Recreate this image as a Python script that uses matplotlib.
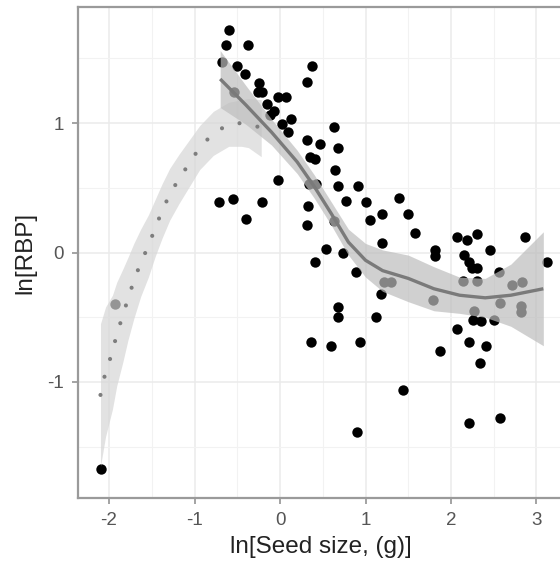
import matplotlib
matplotlib.use("Agg")
import matplotlib.pyplot as plt
import numpy as np

plt.rcParams['font.family'] = ['Liberation Sans', 'DejaVu Sans']
plt.rcParams['lines.scale_dashes'] = False

# ---- observed points: ln(seed size) vs ln(RBP) ----
pt_x = [-0.60, -0.63, -0.37, -0.50, -0.41, -0.25, -0.26, -0.21, -0.15, -0.02,
        0.07, -0.07, -0.12, 0.13, 0.02, 0.09, 0.37, 0.32, 0.63, 0.32,
        0.47, 0.68, 0.35, 0.41, 0.64, -0.02, -0.71, -0.55, -0.21, -0.40,
        0.68, 0.91, 0.77, 1.01, 1.39, 0.33, 1.19, 1.50, 1.05, 0.32,
        1.58, 2.07, 2.19, 2.30, 2.87, 0.54, 1.19, 1.81, 1.81, 2.46,
        2.15, 2.21, 2.25, 2.30, 0.41, 3.12, 2.56, 0.89, 1.18, 0.68,
        0.68, 1.12, 2.07, 2.26, 2.35, 2.50, 0.36, 0.60, 0.94, 1.87,
        2.21, 2.41, 2.34, 1.44, 2.21, 2.57, 0.90, -2.09, -0.27,
        -0.68, -0.54, -1.93, 0.34, 0.42, 0.63, 0.74, 1.22, 1.30, 1.79,
        2.14, 2.30, 2.71, 2.83, 2.57, 2.27, 2.82, 2.82]
pt_y = [1.72, 1.60, 1.60, 1.44, 1.38, 1.31, 1.24, 1.24, 1.15, 1.20,
        1.20, 1.09, 1.06, 1.03, 0.99, 0.93, 1.44, 1.32, 0.97, 0.87,
        0.84, 0.81, 0.74, 0.72, 0.64, 0.56, 0.39, 0.41, 0.39, 0.26,
        0.51, 0.51, 0.40, 0.39, 0.42, 0.36, 0.30, 0.30, 0.25, 0.21,
        0.15, 0.12, 0.10, 0.14, 0.12, 0.03, 0.07, 0.02, -0.03, 0.02,
        -0.02, -0.07, -0.12, -0.12, -0.07, -0.07, -0.15, -0.15, -0.32, -0.42,
        -0.50, -0.50, -0.59, -0.52, -0.53, -0.52, -0.69, -0.72, -0.69, -0.76,
        -0.69, -0.72, -0.85, -1.06, -1.32, -1.28, -1.39, -1.67, -1.95,
        1.47, 1.24, -0.40, 0.53, 0.53, 0.24, 0.00, -0.23, -0.23, -0.37,
        -0.22, -0.22, -0.25, -0.23, -0.39, -0.45, -0.41, -0.46]

# ---- smooth fit (solid) with confidence band ----
fit_x = [-0.70, -0.40, -0.10, 0.20, 0.40, 0.60, 0.80, 1.00, 1.20, 1.50,
         1.80, 2.10, 2.40, 2.70, 3.08]
fit_y = [1.34, 1.14, 0.93, 0.70, 0.51, 0.30, 0.08, -0.06, -0.14, -0.20,
         -0.28, -0.33, -0.35, -0.33, -0.28]
fit_se = [0.22, 0.15, 0.10, 0.09, 0.09, 0.09, 0.10, 0.13, 0.16, 0.18,
          0.17, 0.14, 0.15, 0.24, 0.44]

# ---- quadratic fit (dotted) with confidence band ----
quad_x = [-2.10, -2.04, -1.96, -1.91, -1.84, -1.78, -1.71, -1.63, -1.54, -1.46,
          -1.38, -1.29, -1.18, -1.06, -0.94, -0.78, -0.60, -0.45, -0.37, -0.22]
quad_y = [-1.10, -0.92, -0.77, -0.63, -0.49, -0.36, -0.22, -0.08, 0.05, 0.19,
          0.32, 0.45, 0.57, 0.69, 0.81, 0.92, 0.99, 1.00, 1.00, 0.96]
quad_se = [0.55, 0.50, 0.44, 0.40, 0.36, 0.32, 0.29, 0.26, 0.24, 0.22,
           0.21, 0.20, 0.19, 0.18, 0.17, 0.17, 0.17, 0.18, 0.19, 0.22]

x_ticks = [-2, -1, 0, 1, 2, 3]
y_ticks = [-1, 0, 1]

fig = plt.figure(figsize=(5.6, 5.63), dpi=100)
ax = fig.add_axes([78/560, 65/563, 492/560, 491/563])
ax.set_xlim(-2.363, 3.392)
ax.set_ylim(-1.896, 1.896)

ax.set_xticks(x_ticks)
ax.set_yticks(y_ticks)
ax.set_xticks([-1.5, -0.5, 0.5, 1.5, 2.5], minor=True)
ax.set_yticks([-1.5, -0.5, 0.5, 1.5], minor=True)
ax.grid(which='major', color='#ebebeb', lw=1.1)
ax.grid(which='minor', color='#f2f2f2', lw=0.8)
ax.set_axisbelow(True)

ax.scatter(pt_x, pt_y, s=56, color='black', zorder=3, linewidths=0)

qx = np.array(quad_x); qy = np.array(quad_y); qs = np.array(quad_se)
ax.fill_between(qx, qy - qs, qy + qs, color='#d6d6d6', alpha=0.7, lw=0, zorder=4)
fx = np.array(fit_x); fy = np.array(fit_y); fs = np.array(fit_se)
ax.fill_between(fx, fy - fs, fy + fs, color='#bdbdbd', alpha=0.7, lw=0, zorder=5)

ax.plot(fx, fy, color='#7a7a7a', lw=2.4, zorder=6, solid_capstyle='butt')
ax.plot(qx, qy, color='#7d7d7d', lw=3.0, zorder=6,
        linestyle=(0, (0.01, 13.4)), dash_capstyle='round')

for s in ax.spines.values():
    s.set_color('#9a9a9a')
    s.set_linewidth(1.6)

ax.tick_params(which='major', length=4, width=1.1, color='#8a8a8a',
               labelsize=13.5, labelcolor='#555555', pad=6)
ax.tick_params(which='minor', length=0)
ax.set_xticklabels([str(v) for v in x_ticks])
ax.set_yticklabels([str(v) for v in y_ticks])

fig.text(321/560, 1 - 547/563, 'ln[Seed size, (g)]', ha='center', va='center',
         fontsize=17.5, color='#222222')
fig.text(25/560, 1 - 253/563, 'ln[RBP]', ha='center', va='center',
         rotation=90, fontsize=17.5, color='#222222')

fig.savefig('out.png', dpi=100)
